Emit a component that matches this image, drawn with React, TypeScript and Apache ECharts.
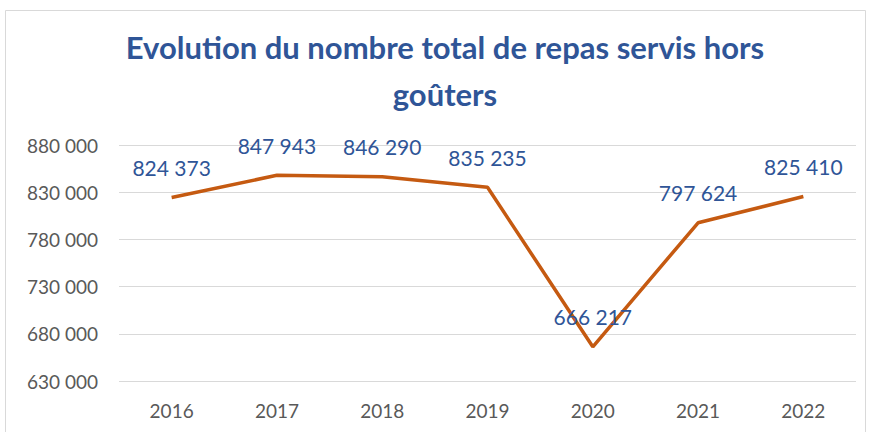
import React, { useEffect, useRef } from "react";
import * as echarts from "echarts";

const years = ["2016", "2017", "2018", "2019", "2020", "2021", "2022"];
const meals = [824373, 847943, 846290, 835235, 666217, 797624, 825410];

const fmt = (v: number) => String(Math.round(v)).replace(/\B(?=(\d{3})+(?!\d))/g, " ");

export default function App() {
  const ref = useRef<HTMLDivElement>(null);
  useEffect(() => {
    if (!ref.current) return;
    const chart = echarts.init(ref.current, null, { renderer: "svg" });
    chart.setOption({
      animation: false,
      backgroundColor: "#ffffff",
      graphic: [
        {
          type: "rect",
          shape: { x: 5.5, y: 10.5, width: 860, height: 430 },
          style: { fill: "none", stroke: "#d9d9d9", lineWidth: 1 },
          silent: true,
        },
      ],
      title: {
        text: "Evolution du nombre total de repas servis hors\ngoûters",
        left: 440,
        top: 18,
        textAlign: "center",
        textStyle: {
          fontFamily: "Lato",
          fontWeight: "bold",
          fontSize: 31,
          color: "#2F5597",
          lineHeight: 47,
        },
      },
      grid: { left: 119, right: 13, top: 145, bottom: 51 },
      xAxis: {
        type: "category",
        data: years,
        boundaryGap: true,
        axisLine: { show: false },
        axisTick: { show: false },
        axisLabel: {
          fontFamily: "Lato",
          fontSize: 19,
          color: "#595959",
          margin: 20,
        },
      },
      yAxis: {
        type: "value",
        min: 630000,
        max: 880000,
        interval: 50000,
        axisLine: { show: false },
        axisTick: { show: false },
        splitLine: { lineStyle: { color: "#d9d9d9", width: 1 } },
        axisLabel: {
          formatter: (v: number) => fmt(v),
          fontFamily: "Lato",
          fontSize: 19,
          color: "#595959",
          margin: 21,
        },
      },
      series: [
        {
          type: "line",
          data: meals,
          symbol: "circle",
          symbolSize: 1,
          showSymbol: true,
          itemStyle: { color: "rgba(0,0,0,0)" },
          lineStyle: { color: "#C55A11", width: 3.5 },
          label: {
            show: true,
            position: "top",
            distance: 19,
            formatter: (p: any) => fmt(p.value),
            fontFamily: "Lato",
            fontSize: 21,
            color: "#2F5597",
          },
        },
      ],
    });
    return () => chart.dispose();
  }, []);
  return (
    <div
      ref={ref}
      style={{ position: "fixed", left: 0, top: 0, width: 869, height: 432 }}
    />
  );
}
